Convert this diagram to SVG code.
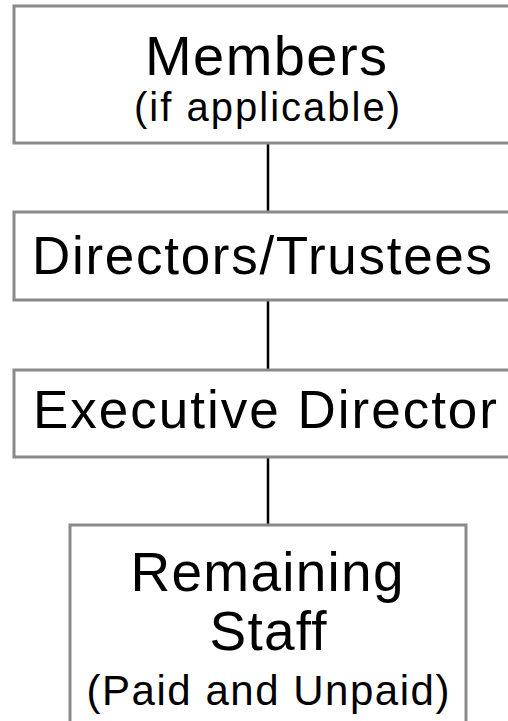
<svg xmlns="http://www.w3.org/2000/svg" width="508" height="721" viewBox="0 0 508 721">
<style>
.box{fill:#fff;stroke:#8a8a8a;stroke-width:3}
.t{font-family:"Liberation Sans",Arial,sans-serif;fill:#000;text-anchor:middle}
.c{stroke:#000;stroke-width:2.5;fill:none}
</style>
<rect width="508" height="721" fill="#fff"/>
<g id="connectors">
<line class="c" x1="268" y1="143" x2="268" y2="212"/>
<line class="c" x1="268" y1="300" x2="268" y2="370"/>
<line class="c" x1="268" y1="457" x2="268" y2="525"/>
</g>
<g id="members">
<rect class="box" x="14" y="6" width="510" height="137"/>
<text class="t" x="266" y="75" font-size="56" textLength="242" lengthAdjust="spacing">Members</text>
<text class="t" x="267" y="121" font-size="40" textLength="266" lengthAdjust="spacing">(if applicable)</text>
</g>
<g id="directors">
<rect class="box" x="14" y="212" width="510" height="88"/>
<text class="t" x="262" y="274" font-size="53" textLength="460" lengthAdjust="spacing">Directors/Trustees</text>
</g>
<g id="executive">
<rect class="box" x="14" y="370" width="510" height="87"/>
<text class="t" x="265" y="428" font-size="53" textLength="464" lengthAdjust="spacing">Executive Director</text>
</g>
<g id="staff">
<rect class="box" x="70" y="525" width="396" height="210"/>
<text class="t" x="267" y="591" font-size="55" textLength="273" lengthAdjust="spacing">Remaining</text>
<text class="t" x="268" y="650" font-size="55" textLength="117" lengthAdjust="spacing">Staff</text>
<text class="t" x="268" y="705" font-size="42" textLength="363" lengthAdjust="spacing">(Paid and Unpaid)</text>
</g>
</svg>
